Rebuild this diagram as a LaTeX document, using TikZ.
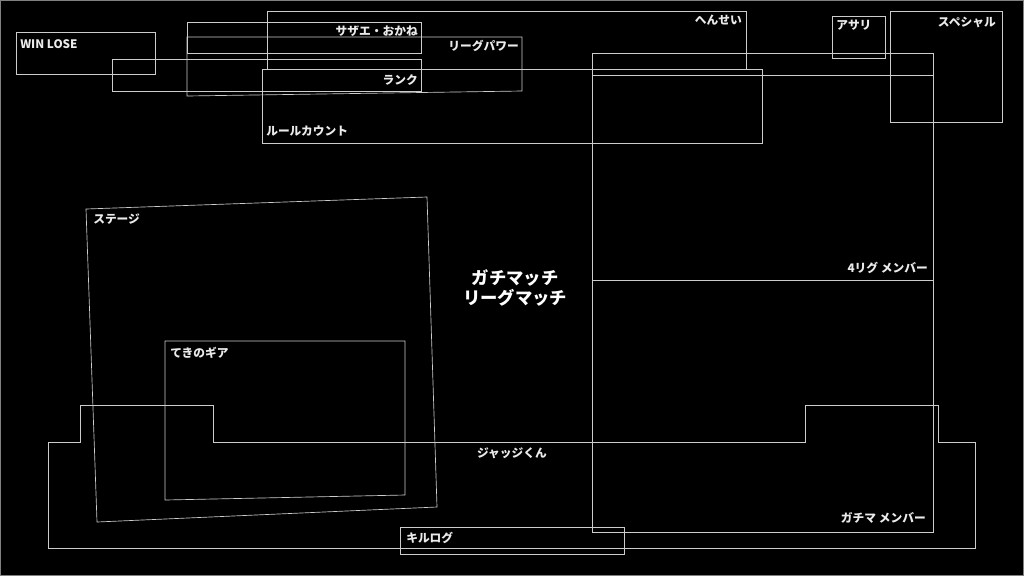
\documentclass[tikz,border=0pt]{standalone}
\usepackage{fontspec}
\newfontfamily\jp{Noto Sans CJK JP}
\begin{document}
\begin{tikzpicture}[x=0.75pt,y=-0.75pt,
  ln/.style={draw=white!80!black,line width=0.5pt},
  lbl/.style={text=white!92!black,font=\jp\bfseries\fontsize{8.8}{10}\selectfont,inner sep=0pt},
  big/.style={text=white,font=\jp\bfseries\fontsize{13}{15}\selectfont,inner sep=0pt,align=center}]
\fill[black] (0,0) rectangle (1024,576);
\useasboundingbox (0,0) rectangle (1024,576);
\draw[draw=white!50!black,line width=0.8pt] (0.5,0.5) rectangle (1023.5,575.5);
% top boxes
\draw[ln] (16,32) rectangle (155,74);
\draw[ln] (112,59) rectangle (421,91);
\draw[ln] (187,22) rectangle (421,53);
\draw[ln] (187,37) -- (522,37) -- (522,91) -- (187,96) -- cycle;
\draw[ln] (267,11) rectangle (746,69);
\draw[ln] (262,69) rectangle (762,143);
\draw[ln] (832,16) rectangle (885,58);
\draw[ln] (890,11) rectangle (1002,122);
% right big box
\draw[ln] (592,53) rectangle (933,532);
\draw[ln] (592,75) -- (933,75);
\draw[ln] (592,280) -- (933,280);
% stage and gear
\draw[ln] (86,209) -- (427,197) -- (437,507) -- (97,522) -- cycle;
\draw[ln] (165,341) -- (405,341) -- (405,495) -- (165,500) -- cycle;
% judge
\draw[ln] (48,442) -- (80,442) -- (80,405) -- (213,405) -- (213,442) -- (805,442) -- (805,405) -- (938,405) -- (938,442) -- (975,442) -- (975,548) -- (48,548) -- cycle;
\draw[ln] (400,527) rectangle (624,554);
% labels
\node[lbl,anchor=west] (wl) at (20,44) {WIN LOSE};
\node[lbl,anchor=east] (sz) at (418,31) {サザエ・おかね};
\node[lbl,anchor=east] (lp) at (519,46) {リーグパワー};
\node[lbl,anchor=east] (hs) at (742,20) {へんせい};
\node[lbl,anchor=east] (rk) at (418,80) {ランク};
\node[lbl,anchor=west] (rc) at (266,131) {ルールカウント};
\node[lbl,anchor=west] (as) at (836,25) {アサリ};
\node[lbl,anchor=east] (sp) at (996,22) {スペシャル};
\node[lbl,anchor=west] (st) at (93,219) {ステージ};
\node[lbl,anchor=west] (tg) at (170,353) {てきのギア};
\node[lbl,anchor=east] (lm) at (928,268) {4リグ メンバー};
\node[lbl,anchor=east] (gm) at (926,518) {ガチマ メンバー};
\node[lbl] (jj) at (512,453) {ジャッジくん};
\node[lbl,anchor=west] (kl) at (406,538) {キルログ};
\node[big] (mt) at (515,288) {ガチマッチ\\リーグマッチ};
\end{tikzpicture}
\end{document}
